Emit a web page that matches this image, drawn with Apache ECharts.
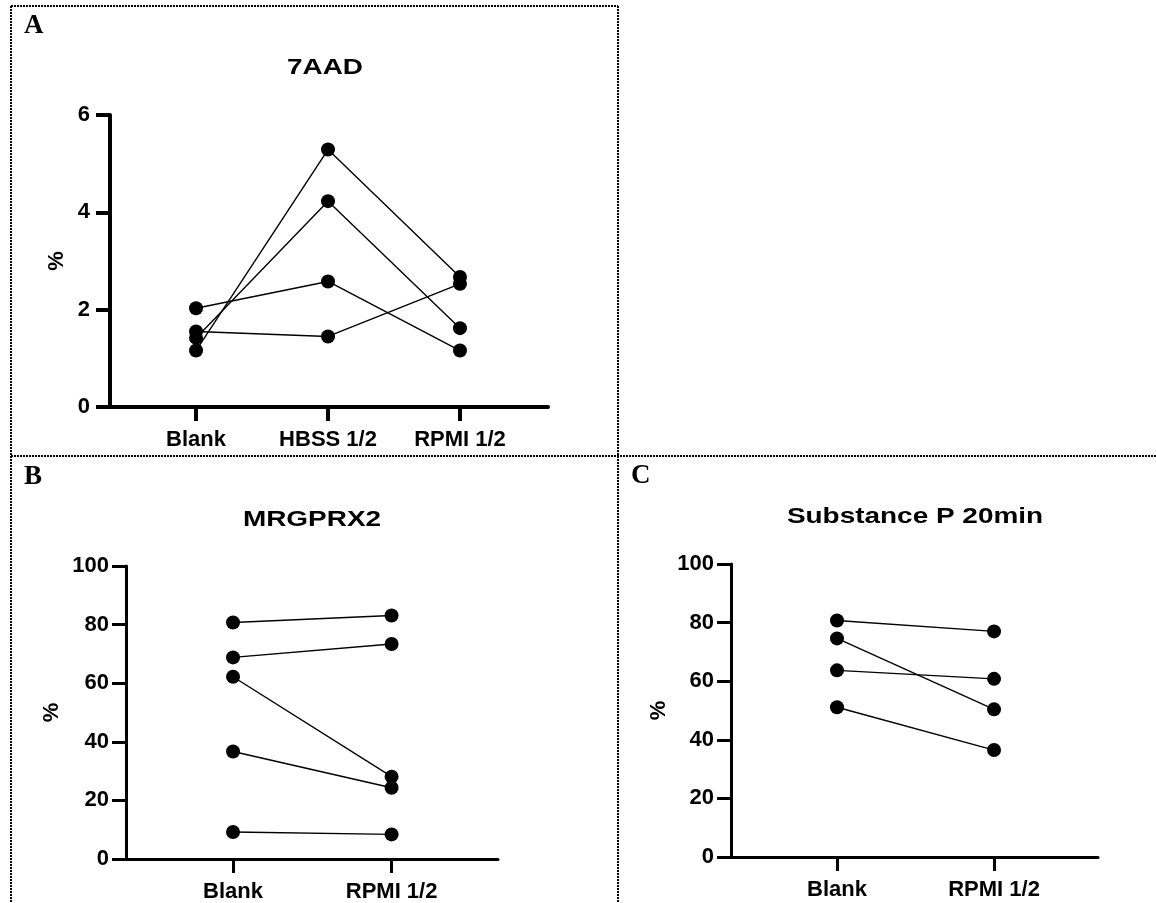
<!DOCTYPE html>
<html>
<head>
<meta charset="utf-8">
<script src="https://cdn.jsdelivr.net/npm/echarts@6/dist/echarts.min.js"></script>
<style>
  html, body { margin: 0; padding: 0; background: #fff; }
  #chart { width: 1156px; height: 903px; }
</style>
</head>
<body>
<div id="chart"></div>
<script>
// ---- Panel A: 7AAD (% of cells), three conditions, one line per donor ----
const aCategories = ['Blank', 'HBSS 1/2', 'RPMI 1/2'];
const aDonor1 = [2.03, 2.58, 1.16];
const aDonor2 = [1.55, 1.45, 2.53];
const aDonor3 = [1.42, 4.23, 1.62];
const aDonor4 = [1.16, 5.29, 2.67];
const aTicks = [0, 2, 4, 6];

// ---- Panel B: MRGPRX2 (%) ----
const bCategories = ['Blank', 'RPMI 1/2'];
const bDonor1 = [80.7, 83.1];
const bDonor2 = [68.8, 73.4];
const bDonor3 = [62.2, 28.1];
const bDonor4 = [36.7, 24.3];
const bDonor5 = [9.2, 8.4];
const bTicks = [0, 20, 40, 60, 80, 100];

// ---- Panel C: Substance P 20min (%) ----
const cCategories = ['Blank', 'RPMI 1/2'];
const cDonor1 = [80.7, 77.0];
const cDonor2 = [74.6, 50.4];
const cDonor3 = [63.7, 60.8];
const cDonor4 = [51.1, 36.5];
const cTicks = [0, 20, 40, 60, 80, 100];

const panelTitles = ['7AAD', 'MRGPRX2', 'Substance P 20min'];
const panelLetters = ['A', 'B', 'C'];
const yName = '%';

const SANS = '"Liberation Sans", Arial, Helvetica, sans-serif';
const SERIF = '"Liberation Serif", "Times New Roman", serif';

const chart = echarts.init(document.getElementById('chart'), null, { renderer: 'canvas' });

function xAxisFor(gridIndex, cats, min, max, lw) {
  const idx = cats.map((_, i) => i);
  return {
    type: 'value', gridIndex, min, max,
    splitLine: { show: false },
    axisLine: { show: true, onZero: false, lineStyle: { color: '#000', width: lw } },
    axisTick: { show: true, length: 14, customValues: idx, lineStyle: { color: '#000', width: lw } },
    axisLabel: {
      show: true, customValues: idx, margin: 22,
      color: '#000', fontFamily: SANS, fontWeight: 'bold', fontSize: 22,
      formatter: v => cats[Math.round(v)] ?? ''
    }
  };
}

function yAxisFor(gridIndex, ticks, nameGap, lw, labelMargin) {
  return {
    type: 'value', gridIndex,
    min: ticks[0], max: ticks[ticks.length - 1], interval: ticks[1] - ticks[0],
    name: yName, nameLocation: 'middle', nameRotate: 90, nameGap,
    nameTextStyle: { color: '#000', fontFamily: SANS, fontWeight: 'bold', fontSize: 22 },
    splitLine: { show: false },
    axisLine: { show: true, onZero: false, lineStyle: { color: '#000', width: lw } },
    axisTick: { show: true, length: 14, lineStyle: { color: '#000', width: lw } },
    axisLabel: { margin: labelMargin, color: '#000', fontFamily: SANS, fontWeight: 'bold', fontSize: 22 }
  };
}

function donorSeries(values, xi, yi) {
  return {
    type: 'line', xAxisIndex: xi, yAxisIndex: yi,
    data: values.map((v, i) => [i, v]),
    symbol: 'circle', symbolSize: 14,
    lineStyle: { color: '#000', width: 1.4 },
    itemStyle: { color: '#000' },
    silent: true, z: 3
  };
}

// dotted frame separating the three panels
const dotted = { stroke: '#000', lineWidth: 2, lineDash: [2, 1] };
function frameLine(x1, y1, x2, y2) {
  return { type: 'line', shape: { x1, y1, x2, y2 }, style: dotted, silent: true };
}

function titleText(text, x, y) {
  return {
    type: 'text', x, y, scaleX: 1.27,
    style: { text, fill: '#000', font: 'bold 22px ' + SANS, textAlign: 'center', textVerticalAlign: 'middle' },
    silent: true
  };
}
function letterText(text, x, y) {
  return {
    type: 'text', x, y,
    style: { text, fill: '#000', font: 'bold 27px ' + SERIF, textAlign: 'left', textVerticalAlign: 'middle' },
    silent: true
  };
}

const option = {
  animation: false,
  backgroundColor: '#fff',
  grid: [
    { left: 110, top: 115, width: 438, height: 292 },
    { left: 126, top: 566, width: 372, height: 297 },
    { left: 731, top: 564, width: 367, height: 293 }
  ],
  xAxis: [
    xAxisFor(0, aCategories, -0.652, 2.667, 4),
    xAxisFor(1, bCategories, -0.675, 1.671, 3),
    xAxisFor(2, cCategories, -0.675, 1.662, 3)
  ],
  yAxis: [
    yAxisFor(0, aTicks, 42, 4, 20),
    yAxisFor(1, bTicks, 63, 3, 17),
    yAxisFor(2, cTicks, 61, 3, 17)
  ],
  series: [
    donorSeries(aDonor1, 0, 0),
    donorSeries(aDonor2, 0, 0),
    donorSeries(aDonor3, 0, 0),
    donorSeries(aDonor4, 0, 0),
    donorSeries(bDonor1, 1, 1),
    donorSeries(bDonor2, 1, 1),
    donorSeries(bDonor3, 1, 1),
    donorSeries(bDonor4, 1, 1),
    donorSeries(bDonor5, 1, 1),
    donorSeries(cDonor1, 2, 2),
    donorSeries(cDonor2, 2, 2),
    donorSeries(cDonor3, 2, 2),
    donorSeries(cDonor4, 2, 2)
  ],
  graphic: [
    frameLine(11, 6, 618, 6),
    frameLine(11, 6, 11, 903),
    frameLine(618, 6, 618, 903),
    frameLine(11, 456, 1156, 456),
    titleText(panelTitles[0], 325, 68),
    titleText(panelTitles[1], 312, 520),
    titleText(panelTitles[2], 915, 517),
    letterText(panelLetters[0], 24, 26),
    letterText(panelLetters[1], 24, 477),
    letterText(panelLetters[2], 631, 476)
  ]
};

chart.setOption(option);
</script>
</body>
</html>
